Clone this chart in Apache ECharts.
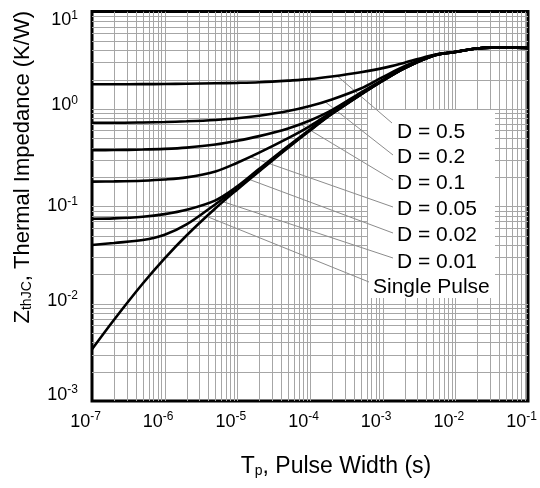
<!DOCTYPE html>
<html><head><meta charset="utf-8">
<script src="https://cdn.jsdelivr.net/npm/echarts@6/dist/echarts.min.js"></script>
<style>html,body{margin:0;padding:0;background:#fff}#c{width:540px;height:488px}</style>
</head><body><div id="c"></div>
<script>
// ---- data ----
const pulseWidth = [1e-7,2e-7,5e-7,1e-6,2e-6,5e-6,1e-5,2e-5,5e-5,1e-4,2e-4,5e-4,1e-3,2e-3,5e-3,1e-2,2e-2,5e-2,1e-1];
const zD50    = [1.79,1.79,1.795,1.80,1.81,1.83,1.85,1.88,1.95,2.02,2.15,2.38,2.62,2.98,3.58,3.86,4.17,4.28,4.22];
const zD20    = [0.72,0.72,0.725,0.732,0.745,0.77,0.80,0.85,0.95,1.07,1.25,1.62,2.12,2.74,3.56,3.85,4.17,4.28,4.22];
const zD10    = [0.377,0.378,0.382,0.388,0.40,0.43,0.47,0.525,0.63,0.76,0.97,1.47,1.99,2.65,3.54,3.84,4.17,4.28,4.22];
const zD05    = [0.179,0.18,0.183,0.188,0.198,0.228,0.28,0.355,0.50,0.665,0.93,1.43,1.96,2.63,3.53,3.84,4.17,4.28,4.22];
const zD02    = [0.0743,0.075,0.078,0.083,0.092,0.115,0.16,0.242,0.415,0.615,0.90,1.41,1.95,2.62,3.52,3.84,4.17,4.28,4.22];
const zD01    = [0.040,0.042,0.045,0.051,0.065,0.105,0.153,0.232,0.405,0.605,0.89,1.405,1.945,2.615,3.52,3.84,4.17,4.28,4.22];
const zSingle = [0.0034,0.0068,0.0161,0.0292,0.0501,0.0953,0.149,0.229,0.40,0.60,0.885,1.40,1.94,2.61,3.52,3.84,4.17,4.28,4.22];
const seriesNames = ['D = 0.5','D = 0.2','D = 0.1','D = 0.05','D = 0.02','D = 0.01','Single Pulse'];
const seriesValues = [zD50, zD20, zD10, zD05, zD02, zD01, zSingle];
// pulse width where each leader line leaves its curve
const leaderStartT = [2.35e-4, 1.6e-4, 7.3e-5, 1.5e-5, 1.36e-5, 5.8e-6, 3.8e-6];
const xMin = 1e-7, xMax = 1e-1, yMin = 1e-3, yMax = 10;

// ---- layout ----
const FONT = '"Liberation Sans", Arial, sans-serif';
const labelPos = [[397,132],[397,157],[397,183],[397,209],[397,235],[397,262],[373,287]];
const leaderEnd = [[392,123],[393,155],[393,180],[393,207],[393,233],[393,258],[369,282]];
const yLabelShift = {1: 9, 0: -3.5, '-2': -2.5, '-3': -6};

function gridValues(lo, hi) {
  const out = [];
  for (let e = Math.round(Math.log10(lo)); e < Math.round(Math.log10(hi)); e++) {
    for (let m = 1; m <= 9; m++) {
      const v = m * Math.pow(10, e);
      if (v > lo * 1.0001 && v < hi * 0.9999) out.push(v);
    }
  }
  return out;
}
const vGrid = gridValues(xMin, xMax);
const hGrid = gridValues(yMin, yMax);

const baseRich = {
  b: {fontSize: 18, fontFamily: FONT, color: '#000', lineHeight: 22},
  s: {fontSize: 12, fontFamily: FONT, color: '#000', lineHeight: 14, verticalAlign: 'top'}
};
const yRich = Object.assign({}, baseRich);
for (let g = 1; g <= 30; g++) yRich['g' + g] = {fontSize: 1, lineHeight: g};

function xLabel(v) {
  const e = Math.round(Math.log10(v));
  return '{b|10}{s|' + e + '}';
}
function yLabel(v) {
  const e = Math.round(Math.log10(v));
  const base = '{b|10}{s|' + e + '}';
  const sh = yLabelShift[e] || 0;
  const g = Math.round(Math.abs(sh) * 2);
  if (!g) return base;
  return sh > 0 ? '{g' + g + '| }\n' + base : base + '\n{g' + g + '| }';
}

function interpLogLog(xs, ys, x) {
  const lx = Math.log10(x);
  for (let i = 0; i < xs.length - 1; i++) {
    const a = Math.log10(xs[i]), b = Math.log10(xs[i + 1]);
    if (lx >= a && lx <= b) {
      const f = (lx - a) / (b - a);
      return Math.pow(10, Math.log10(ys[i]) + f * (Math.log10(ys[i + 1]) - Math.log10(ys[i])));
    }
  }
  return ys[ys.length - 1];
}

function gridRenderer(vertical) {
  return function (params, api) {
    const v = api.value(vertical ? 0 : 1);
    const p1 = vertical ? api.coord([v, yMin]) : api.coord([xMin, v]);
    const p2 = vertical ? api.coord([v, yMax]) : api.coord([xMax, v]);
    const x1 = vertical ? Math.round(p1[0]) + 0.5 : p1[0];
    const x2 = vertical ? Math.round(p2[0]) + 0.5 : p2[0];
    const y1 = vertical ? p1[1] : Math.round(p1[1]) + 0.5;
    const y2 = vertical ? p2[1] : Math.round(p2[1]) + 0.5;
    return {type: 'line', silent: true, shape: {x1, y1, x2, y2}, style: {stroke: '#a6a6a6', lineWidth: 1}};
  };
}

const chart = echarts.init(document.getElementById('c'), null, {renderer: 'canvas'});
const series = [
  {type: 'custom', z: 1, silent: true, clip: true, renderItem: gridRenderer(true), data: vGrid.map(v => [v, 1])},
  {type: 'custom', z: 1, silent: true, clip: true, renderItem: gridRenderer(false), data: hGrid.map(v => [1e-4, v])}
];
seriesNames.forEach((name, i) => {
  series.push({
    name, type: 'line', z: 4, showSymbol: false, smooth: 0.35, silent: true,
    lineStyle: {color: '#000', width: 2.6},
    data: pulseWidth.map((t, j) => [t, seriesValues[i][j]])
  });
});

chart.setOption({
  animation: false,
  backgroundColor: '#fff',
  grid: {left: 92, right: 12, top: 7, bottom: 87, show: true, borderColor: '#000', borderWidth: 3, containLabel: false},
  xAxis: {
    type: 'log', logBase: 10, min: xMin, max: xMax, splitNumber: 6,
    axisLine: {show: false}, axisTick: {show: false}, splitLine: {show: false},
    axisLabel: {formatter: xLabel, rich: baseRich, margin: 10, padding: [0, 13, 0, 0]},
    name: 'T{sub|p}, Pulse Width (s)', nameLocation: 'middle', nameGap: 54,
    nameTextStyle: {fontSize: 23, fontFamily: FONT, color: '#000', padding: [0, 0, 0, 52],
      rich: {sub: {fontSize: 14, fontFamily: FONT, color: '#000', verticalAlign: 'bottom', lineHeight: 14}}}
  },
  yAxis: {
    type: 'log', logBase: 10, min: yMin, max: yMax, splitNumber: 4,
    axisLine: {show: false}, axisTick: {show: false}, splitLine: {show: false},
    axisLabel: {formatter: yLabel, rich: yRich, margin: 14},
    name: 'Z{sub|thJC}, Thermal Impedance (K/W)', nameLocation: 'middle', nameGap: 58,
    nameTextStyle: {fontSize: 22, fontFamily: FONT, color: '#000', padding: [0, 0, 0, 78],
      rich: {sub: {fontSize: 14, fontFamily: FONT, color: '#000', verticalAlign: 'bottom', lineHeight: 14}}}
  },
  series
});

// annotation box, leader lines and labels
const elements = [{
  type: 'rect', z: 2, silent: true,
  shape: {x: 368, y: 110, width: 127, height: 188},
  style: {fill: '#fff'}
}];
seriesNames.forEach((name, i) => {
  const t = leaderStartT[i];
  const p = chart.convertToPixel({xAxisIndex: 0, yAxisIndex: 0}, [t, interpLogLog(pulseWidth, seriesValues[i], t)]);
  elements.push({
    type: 'line', z: 3, silent: true,
    shape: {x1: p[0], y1: p[1], x2: leaderEnd[i][0], y2: leaderEnd[i][1]},
    style: {stroke: '#8c8c8c', lineWidth: 1}
  });
  elements.push({
    type: 'text', z: 5, silent: true, x: labelPos[i][0], y: labelPos[i][1],
    style: {text: name, font: '21px ' + FONT, fill: '#000', textAlign: 'left', textVerticalAlign: 'middle'}
  });
});
chart.setOption({graphic: {elements}});
</script>
</body></html>
